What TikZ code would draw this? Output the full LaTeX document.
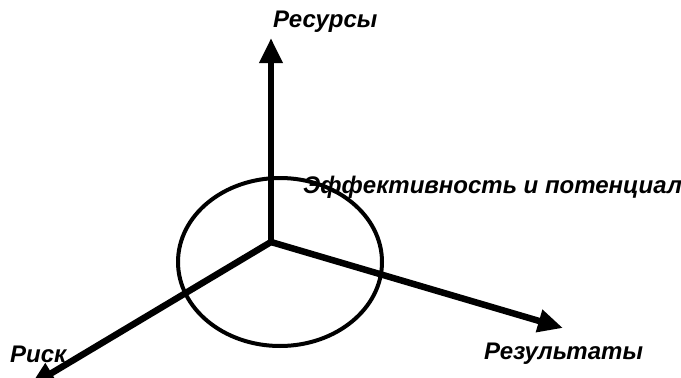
\documentclass[tikz,border=0pt]{standalone}
\usepackage{fontspec}
\setmainfont{Liberation Sans}
\usetikzlibrary{arrows.meta}
\begin{document}
\begin{tikzpicture}[x=1pt,y=-1pt,
  axis/.style={line width=6.5pt,-{Triangle[length=25pt,width=22pt]}},
  lbl/.style={font=\fontsize{24}{26}\selectfont\bfseries\itshape,inner sep=0pt,anchor=west}]
\useasboundingbox (0,0) rectangle (681,378);
\clip (0,0) rectangle (681,378);
\coordinate (o) at (271,242);
\coordinate (up) at (271,38);
\coordinate (rt) at (563,328);
\coordinate (lf) at (30,386);
\draw[axis] (o) -- (up);
\draw[axis] (o) -- (rt);
\draw[axis] (o) -- (lf);
\node[lbl] (res) at (273,22) {Ресурсы};
\node[lbl] (eff) at (303,187) {Эффективность и потенциал};
\node[lbl] (risk) at (10,354) {Риск};
\node[lbl] (rez) at (484,354) {Результаты};
\draw[line width=4pt] (280,262) ellipse [x radius=102, y radius=84];
\end{tikzpicture}
\end{document}
